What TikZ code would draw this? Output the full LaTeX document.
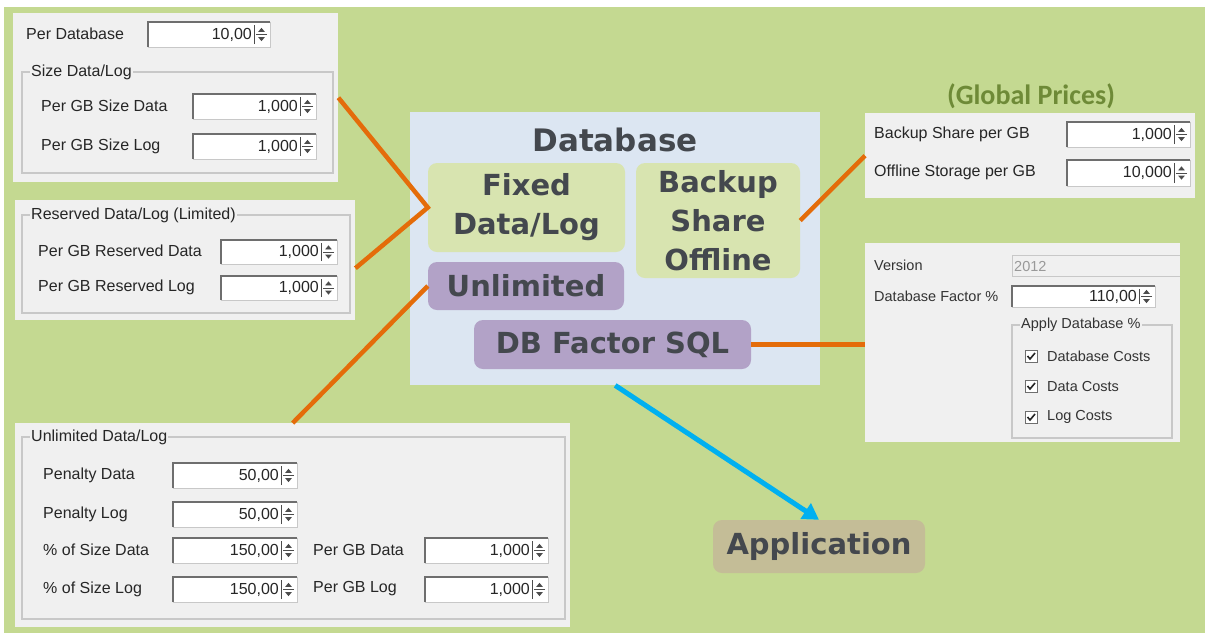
\documentclass[tikz,border=0pt]{standalone}
\usepackage{fontspec}
\setmainfont{Liberation Sans}
\newfontfamily\headfont{DejaVu Sans}
\newfontfamily\pricefont{Carlito}
\usetikzlibrary{arrows.meta}

\definecolor{bggreen}{RGB}{196,217,145}
\definecolor{panelgray}{RGB}{240,240,240}
\definecolor{dbblue}{RGB}{220,230,242}
\definecolor{boxgreen}{RGB}{216,228,176}
\definecolor{boxpurple}{RGB}{178,162,199}
\definecolor{apptan}{RGB}{196,189,151}
\definecolor{linkorange}{RGB}{228,108,10}
\definecolor{arrowblue}{RGB}{0,176,240}
\definecolor{headtext}{RGB}{68,72,78}
\definecolor{pricegreen}{RGB}{110,138,55}
\definecolor{framegray}{RGB}{200,200,200}
\definecolor{edgegray}{RGB}{110,110,110}

% spin field: name, x1, y1, x2, y2, value
\newcommand{\spinfield}[6]{%
  \draw[fieldframe] (#2,#3) rectangle (#4,#5);
  \draw[fieldedge] (#2,#5) -- (#2,#3) -- (#4,#3);
  \node[fieldtext, anchor=east] (#1) at ({#4-17},{(#3+#5)/2}) {#6};
  \draw[spin] ({#4-16},{#3+3}) -- ({#4-16},{#5-3});
  \draw[spin] ({#4-14},{(#3+#5)/2}) -- ({#4-3},{(#3+#5)/2});
  \fill[spin] ({#4-11},{(#3+#5)/2-3}) -- ({#4-6},{(#3+#5)/2-3}) -- ({#4-8.5},{(#3+#5)/2-6}) -- cycle;
  \fill[spin] ({#4-11},{(#3+#5)/2+3}) -- ({#4-6},{(#3+#5)/2+3}) -- ({#4-8.5},{(#3+#5)/2+6}) -- cycle;
}
% group frame: name, x1, y1, x2, y2, label
\newcommand{\groupframe}[6]{%
  \draw[framegray, line width=1.2pt] (#2,#3) rectangle (#4,#5);
  \node[fieldtext, fill=panelgray, anchor=west, inner xsep=1pt] (#1) at ({#2+8},#3) {#6};
}

\begin{document}
\begin{tikzpicture}[x=1pt, y=-1pt,
  panel/.style={fill=panelgray, anchor=north west, inner sep=0pt},
  fieldframe/.style={draw=framegray, fill=white, line width=1pt},
  fieldedge/.style={draw=edgegray, line width=1.2pt},
  fieldtext/.style={font=\fontsize{16}{18}\selectfont, text=black!85, inner sep=1pt},
  smalltext/.style={font=\fontsize{14.5}{17}\selectfont, text=black!80, inner sep=1pt},
  spin/.style={draw=black!70, fill=black!70, line width=0.8pt},
  block/.style={rounded corners=9pt, inner sep=0pt, align=center, text=headtext,
    font=\headfont\bfseries\fontsize{29}{39}\selectfont},
  checkbox/.style={draw=edgegray, fill=white, minimum size=12pt, inner sep=0pt, line width=1pt},
  link/.style={draw=linkorange, line width=4.5pt},
  flow/.style={draw=arrowblue, line width=5pt, -{Triangle[length=16pt,width=18pt]}}]

\useasboundingbox (0,0) rectangle (1205,633);
\fill[white] (0,0) rectangle (1205,633);
\fill[bggreen] (4,7) rectangle (1205,633);

% per database and size
\node[panel, minimum width=325pt, minimum height=169pt] (pdb) at (13,13) {};
\node[fieldtext, anchor=west] (perdb) at (25,34) {Per Database};
\spinfield{vperdb}{148}{22}{270}{47}{10,00}
\groupframe{gsize}{22}{72}{333}{173}{Size Data/Log}
\node[fieldtext, anchor=west] (sizedata) at (40,106) {Per GB Size Data};
\spinfield{vsizedata}{193}{94}{316}{119}{1,000}
\node[fieldtext, anchor=west] (sizelog) at (40,146) {Per GB Size Log};
\spinfield{vsizelog}{193}{134}{316}{159}{1,000}

% reserved
\node[panel, minimum width=340pt, minimum height=120pt] (pres) at (15,200) {};
\groupframe{gres}{22}{215}{350}{313}{Reserved Data/Log (Limited)}
\node[fieldtext, anchor=west] (resdata) at (37,251) {Per GB Reserved Data};
\spinfield{vresdata}{221}{240}{337}{264}{1,000}
\node[fieldtext, anchor=west] (reslog) at (37,287) {Per GB Reserved Log};
\spinfield{vreslog}{221}{276}{337}{300}{1,000}

% unlimited
\node[panel, minimum width=555pt, minimum height=204pt] (punl) at (15,423) {};
\groupframe{gunl}{22}{437}{565}{619}{Unlimited Data/Log}
\node[fieldtext, anchor=west] (pendata) at (42,475) {Penalty Data};
\spinfield{vpendata}{173}{463}{297}{488}{50,00}
\node[fieldtext, anchor=west] (penlog) at (42,514) {Penalty Log};
\spinfield{vpenlog}{173}{502}{297}{527}{50,00}
\node[fieldtext, anchor=west] (pctdata) at (42,550) {\% of Size Data};
\spinfield{vpctdata}{173}{538}{297}{563}{150,00}
\node[fieldtext, anchor=west] (gbdata) at (312,550) {Per GB Data};
\spinfield{vgbdata}{425}{538}{548}{563}{1,000}
\node[fieldtext, anchor=west] (pctlog) at (42,589) {\% of Size Log};
\spinfield{vpctlog}{173}{577}{297}{602}{150,00}
\node[fieldtext, anchor=west] (gblog) at (312,589) {Per GB Log};
\spinfield{vgblog}{425}{577}{548}{602}{1,000}

% global prices
\node[font=\pricefont\bfseries\fontsize{28}{30}\selectfont, text=pricegreen] (global) at (1031,96) {(Global Prices)};
\node[panel, minimum width=330pt, minimum height=85pt] (pglob) at (865,113) {};
\node[fieldtext, anchor=west] (bkshare) at (873,134) {Backup Share per GB};
\spinfield{vbkshare}{1067}{122}{1190}{147}{1,000}
\node[fieldtext, anchor=west] (offline) at (873,172) {Offline Storage per GB};
\spinfield{voffline}{1067}{160}{1190}{186}{10,000}

% version and factor
\node[panel, minimum width=315pt, minimum height=199pt] (pver) at (865,243) {};
\node[smalltext, anchor=west] (version) at (873,265) {Version};
\draw[fieldframe, fill=panelgray] (1180,255) -- (1012,255) -- (1012,276) -- (1180,276);
\node[smalltext, anchor=west, text=black!40] (vversion) at (1013,266) {2012};
\node[smalltext, anchor=west] (factor) at (873,296) {Database Factor \%};
\spinfield{vfactor}{1012}{286}{1155}{307}{110,00}
\draw[framegray, line width=1.2pt] (1012,325) rectangle (1172,438);
\node[smalltext, fill=panelgray, anchor=west, inner xsep=1pt] (gapply) at (1020,325) {Apply Database \%};
\foreach \y/\n/\t in {356/cdb/Database Costs, 386/cdata/Data Costs, 417/clog/Log Costs} {
  \node[checkbox] (\n) at (1031,\y) {};
  \draw[line width=1.6pt, black!85] (\n.center) ++(-3.5,0) -- ++(2.5,3) -- ++(5,-6);
  \node[smalltext, anchor=west] (t\n) at (1046,\y) {\t};
}

% database block
\node[fill=dbblue, anchor=north west, minimum width=410pt, minimum height=273pt] (db) at (410,112) {};
\node[block, rounded corners=0pt, font=\headfont\bfseries\fontsize{31}{36}\selectfont] (dbtitle) at (615,140) {Database};
\node[block, fill=boxgreen, minimum width=197pt, minimum height=89pt] (fixed) at (526.5,207.5) {Fixed\\Data/Log};
\node[block, fill=boxgreen, minimum width=164pt, minimum height=115pt] (backup) at (718,220.5) {Backup\\Share\\Offline};
\node[block, fill=boxpurple, minimum width=196pt, minimum height=48pt] (unlim) at (526,286) {Unlimited};
\node[block, fill=boxpurple, minimum width=277pt, minimum height=49pt] (dbf) at (612.5,344.5) {DB Factor SQL};
\node[block, fill=apptan, minimum width=212pt, minimum height=53pt] (app) at (819,546.5) {Application};

% links
\draw[link] (pdb.east) -- (fixed.west) -- ([yshift=-8pt]pres.east);
\draw[link] (unlim.west) -- (punl.north);
\draw[link] (backup.east) -- (pglob.west);
\draw[link] (dbf.east) -- (dbf.east -| pver.west);
\draw[flow] (db.south) -- (app.north);

\end{tikzpicture}
\end{document}
